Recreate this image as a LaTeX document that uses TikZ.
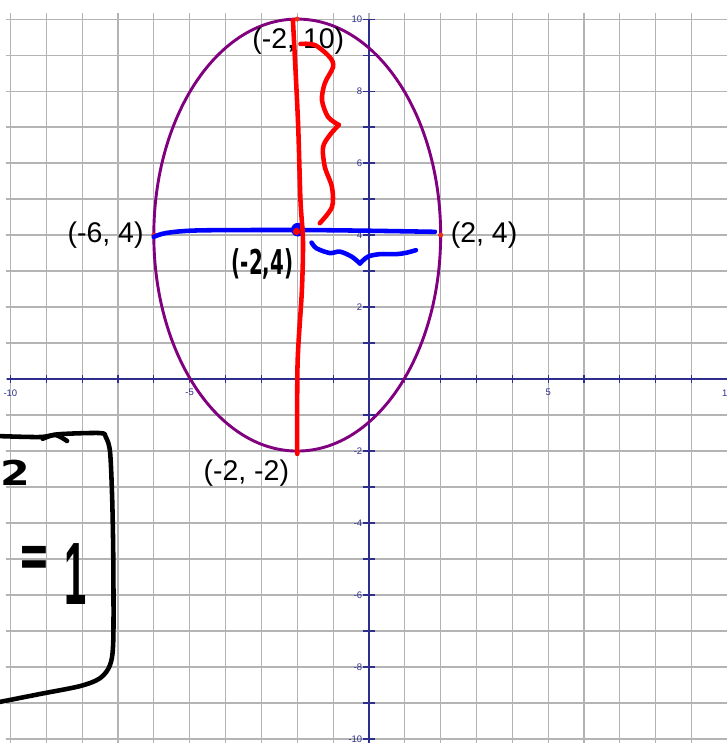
\documentclass[tikz,border=0pt]{standalone}
\usepackage{fontspec}
\setmainfont{Liberation Sans}
\newfontfamily\manuscrita{DejaVu Sans}
\usetikzlibrary{positioning}
\definecolor{malla}{RGB}{180,180,180}
\definecolor{ejes}{RGB}{46,46,140}
\definecolor{morado}{RGB}{128,0,128}
\definecolor{rojo}{RGB}{255,0,0}
\definecolor{azul}{RGB}{0,0,255}
\definecolor{punto}{RGB}{230,50,30}

\begin{document}
\begin{tikzpicture}[x=0.996cm, y=1cm,
      reja/.style={draw=malla, line width=0.9pt},
      eje/.style={draw=ejes, line width=0.9pt},
      rotulo/.style={font=\fontsize{7.5}{9}\selectfont, text=ejes, inner sep=0pt},
      vertice/.style={font=\fontsize{22.5}{27}\selectfont, inner sep=0pt},
      marca/.style={circle, fill=punto, inner sep=0pt, minimum size=4pt},
      trazo/.style={line width=3.6pt, line cap=round, line join=round},
      mano/.style={inner sep=0pt, text=black}]

    \useasboundingbox (-10.29,-10.11) rectangle (9.96,10.53);

    \foreach \k in {-10,...,10} {
      \draw[reja] (\k,-10.3) -- (\k,10.16);
      \draw[reja] (-10.13,\k) -- (10.3,\k);
    }
    \draw[eje] (-10.1,0) -- (10.3,0);
    \draw[eje] (0,-10.3) -- (0,10);
    \foreach \k in {-10,...,10} {
      \draw[eje] (\k,0.12) -- (\k,-0.12);
      \draw[eje] (-0.16,\k) -- (0.16,\k);
    }
    \foreach \k [count=\i] in {-10,-5,5,10}
      \node[rotulo] (ex\i) at (\k,-0.38) {\k};
    \foreach \k [count=\i] in {-10,-8,-6,-4,-2,2,4,6,8,10}
      \node[rotulo, anchor=east] (ey\i) at (-0.18,\k) {\k};

    \coordinate (C) at (-2,4);
    \draw[morado, line width=2.3pt] (C) ellipse [x radius=4, y radius=6];

    \node[marca] (arriba) at (-2,10) {};
    \node[marca] (izq) at (-6,4) {};
    \node[marca] (der) at (2,4) {};
    \node[marca] (abajo) at (-2,-2) {};

    \node[vertice] (lblarriba) at (-1.97,9.39) {(-2, 10)};
    \node[vertice, left=0.2cm of izq] (lblizq) {(-6, 4)};
    \node[vertice, right=0.2cm of der] (lblder) {(2, 4)};
    \node[vertice] (lblabajo) at (-3.42,-2.62) {(-2, -2)};

    \draw[trazo, azul] plot[smooth] coordinates {(-6.0,3.95) (-5.64,4.06) (-4.71,4.13)
      (-2,4.14) (0,4.12) (1.84,4.09)};
    \node[circle, fill=azul, inner sep=0pt, minimum size=0.38cm] (centro) at (-1.98,4.15) {};
    \node[circle, fill=rojo, inner sep=0pt, minimum size=0.2cm] (ctr) at (-2.02,4.1) {};
    \draw[trazo, azul] plot[smooth] coordinates {(-1.60,3.79) (-1.46,3.63) (-1.09,3.50)
      (-0.81,3.54) (-0.48,3.40) (-0.25,3.21)};
    \draw[trazo, azul] plot[smooth] coordinates {(-0.25,3.21) (-0.03,3.40) (0.31,3.47)
      (0.77,3.47) (1.05,3.51) (1.31,3.58)};

    \draw[trazo, rojo] plot[smooth] coordinates {(-2.12,9.97) (-1.98,7.19) (-1.91,4.97)
      (-1.84,3.86) (-1.87,2.47) (-1.99,0.45) (-2.0,-2.08)};
    \draw[trazo, rojo] plot[smooth] coordinates {(-1.91,9.31) (-1.51,9.28) (-1.09,8.94)
      (-1.00,8.67) (-1.23,8.22) (-1.31,7.75) (-1.14,7.28) (-0.84,7.06)};
    \draw[trazo, rojo] plot[smooth] coordinates {(-0.84,7.06) (-1.09,6.78) (-1.28,6.44)
      (-1.23,5.89) (-1.03,5.33) (-1.03,4.78) (-1.37,4.33)};

    \node[mano, font=\manuscrita\bfseries\fontsize{27}{30}\selectfont] (nota) at (-2.97,3.2)
      {\scalebox{0.58}[1]{(-2,4)}};

    \draw[trazo, black] plot[smooth] coordinates {(-10.45,-1.58) (-9.18,-1.61) (-8.62,-1.53)
      (-7.50,-1.50) (-7.34,-1.61) (-7.22,-2.03) (-7.16,-3.36) (-7.13,-5.03) (-7.13,-7.25)
      (-7.22,-7.94) (-7.50,-8.31) (-8.06,-8.53) (-9.18,-8.75) (-10.45,-9.0)};
    \draw[trazo, black] plot[smooth] coordinates {(-9.1,-1.66) (-8.75,-1.55) (-8.42,-1.72)};
    \node[mano, font=\manuscrita\bfseries\fontsize{27}{30}\selectfont] (dos) at (-9.85,-2.6)
      {\scalebox{1.25}[1]{2}};
    \node[mano, font=\manuscrita\bfseries\fontsize{30}{34}\selectfont] (igual) at (-9.34,-5.08)
      {\scalebox{1}[1.7]{=}};
    \node[mano, font=\bfseries\fontsize{70}{70}\selectfont] (uno) at (-8.18,-5.42)
      {\scalebox{0.45}[1]{1}};
  \end{tikzpicture}
\end{document}
